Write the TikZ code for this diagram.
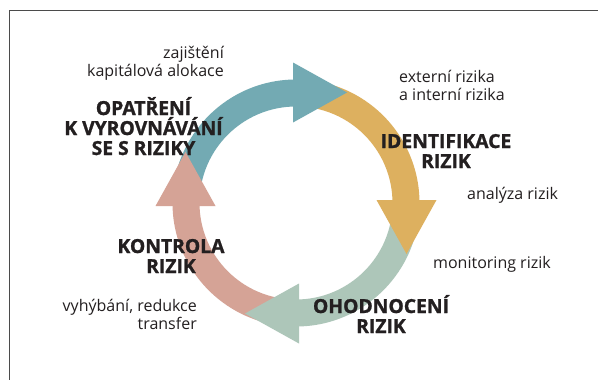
\documentclass[tikz,border=0pt]{standalone}
\usepackage{fontspec}
\setmainfont{Open Sans}
\newfontfamily\ttlfont{Open Sans}[BoldFeatures={FakeBold=1.2}]
\usetikzlibrary{calc}
\definecolor{cteal}{RGB}{115,170,179}
\definecolor{cyel}{RGB}{221,176,95}
\definecolor{cgrn}{RGB}{173,198,185}
\definecolor{cpnk}{RGB}{213,163,150}
\definecolor{ctxt}{RGB}{35,31,32}
\definecolor{cframe}{RGB}{75,75,75}
\newcommand\ringcx{296}
\newcommand\ringcy{203}
\newcommand\ringband[3]{%
  \fill[#3] ($(\ringcx,\ringcy)+(#1:123.5)$) arc[start angle=#1, end angle=#2, radius=123.5]
    -- ($(\ringcx,\ringcy)+(#2:96.5)$) arc[start angle=#2, end angle=#1, radius=96.5] -- cycle;}
\newcommand\ringhead[2]{%
  \fill[#2] ($(\ringcx,\ringcy)+(#1:140.5)+(#1+90:-3)$)
    -- ($(\ringcx,\ringcy)+(#1:80.5)+(#1+90:-3)$)
    -- ($(\ringcx,\ringcy)+(#1:110.5)+(#1+90:51)$) -- cycle;}
\tikzset{
  lbl/.style={font=\fontsize{16}{18}\selectfont, text=ctxt, inner sep=0pt},
  ttl/.style={font=\ttlfont\fontsize{19.3}{20}\selectfont\bfseries, text=ctxt, inner sep=0pt},
}
\begin{document}
\begin{tikzpicture}[x=1pt,y=-1pt]
\useasboundingbox (0,0) rectangle (598,380);
\fill[white] (0,0) rectangle (598,380);
\draw[line width=1pt, cframe] (9,380) -- (9,10) -- (598,10);
% bands
\ringband{180}{270}{cteal}
\ringband{270}{360}{cyel}
\ringband{0}{90}{cgrn}
\ringband{90}{180}{cpnk}
% heads
\ringhead{270}{cteal}
\ringhead{360}{cyel}
\ringhead{90}{cgrn}
\ringhead{180}{cpnk}
% texts
\node[lbl, anchor=base east] (z1) at (224,58) {zajištění};
\node[lbl, anchor=base east] (z2) at (224,76) {kapitálová alokace};
\node[ttl, anchor=base] (o1) at (143.5,115) {OPATŘENÍ};
\node[ttl, anchor=base] (o2) at (143.5,135) {K VYROVNÁVÁNÍ};
\node[ttl, anchor=base] (o3) at (143.5,155) {SE S RIZIKY};
\node[lbl, anchor=base west] (e1) at (399,82.5) {externí rizika};
\node[lbl, anchor=base west] (e2) at (399,100) {a interní rizika};
\node[ttl, anchor=base] (i1) at (446,148) {IDENTIFIKACE};
\node[ttl, anchor=base] (i2) at (446,168) {RIZIK};
\node[lbl, anchor=base west] (a1) at (467,199) {analýza rizik};
\node[lbl, anchor=base west] (m1) at (433,268) {monitoring rizik};
\node[ttl, anchor=base] (h1) at (381,313) {OHODNOCENÍ};
\node[ttl, anchor=base] (h2) at (381,333) {RIZIK};
\node[ttl, anchor=base] (k1) at (171,253) {KONTROLA};
\node[ttl, anchor=base] (k2) at (171,273) {RIZIK};
\node[lbl, anchor=base east] (v1) at (197,311) {vyhýbání, redukce};
\node[lbl, anchor=base east] (v2) at (197,329) {transfer};
\end{tikzpicture}
\end{document}
